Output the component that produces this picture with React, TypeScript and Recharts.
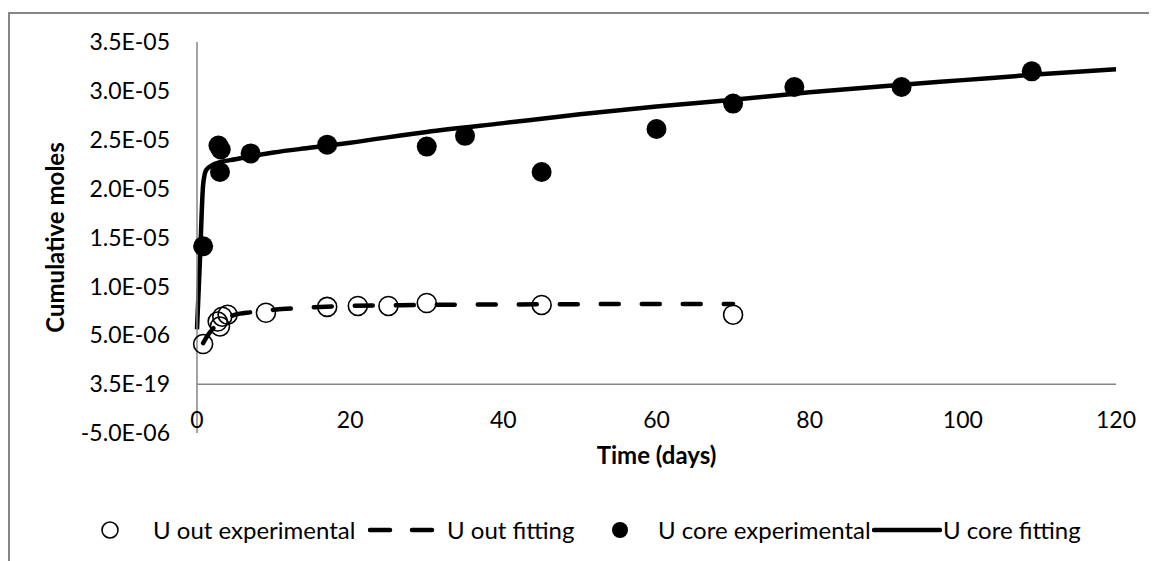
import React from "react";
import {
  ComposedChart,
  Line,
  Scatter,
  XAxis,
  YAxis,
  ReferenceLine,
  Legend,
} from "recharts";

const FONT = "Lato, 'Liberation Sans', sans-serif";
const AXIS_GRAY = "#868686";

const X_TICKS = [0, 20, 40, 60, 80, 100, 120];
const Y_TICKS = [-5e-6, 0, 5e-6, 1e-5, 1.5e-5, 2e-5, 2.5e-5, 3e-5, 3.5e-5];
const Y_LABELS = [
  "-5.0E-06",
  "3.5E-19",
  "5.0E-06",
  "1.0E-05",
  "1.5E-05",
  "2.0E-05",
  "2.5E-05",
  "3.0E-05",
  "3.5E-05",
];

// U out experimental (open circles)
const outExpDays = [0.8, 3, 2.7, 3.3, 4, 9, 17, 21, 25, 30, 45, 70];
const outExpMoles = [
  4.1e-6, 5.9e-6, 6.4e-6, 6.9e-6, 7.1e-6, 7.3e-6, 7.9e-6, 8.0e-6, 8.0e-6,
  8.3e-6, 8.1e-6, 7.1e-6,
];

// U out fitting (dashed)
const outFitDays = [0.8, 1.5, 2, 3, 4, 5, 7, 10, 15, 20, 25, 30, 40, 50, 60, 70];
const outFitMoles = [
  4.2e-6, 5.1e-6, 5.6e-6, 6.3e-6, 6.8e-6, 7.1e-6, 7.35e-6, 7.6e-6, 7.85e-6,
  8.0e-6, 8.05e-6, 8.1e-6, 8.15e-6, 8.18e-6, 8.2e-6, 8.2e-6,
];

// U core experimental (filled circles)
const coreExpDays = [0.8, 2.8, 3.1, 3, 7, 17, 30, 35, 45, 60, 70, 78, 92, 109];
const coreExpMoles = [
  1.41e-5, 2.44e-5, 2.4e-5, 2.17e-5, 2.36e-5, 2.45e-5, 2.43e-5, 2.54e-5,
  2.17e-5, 2.61e-5, 2.87e-5, 3.04e-5, 3.04e-5, 3.2e-5,
];

// U core fitting (solid)
const coreFitDays = [0, 0.4, 0.8, 1.2, 2, 3, 5, 7, 10, 15, 20, 30, 40, 50, 60, 70, 80, 90, 100, 110, 120];
const coreFitMoles = [
  5.6e-6, 1.3e-5, 2.04e-5, 2.19e-5, 2.24e-5, 2.27e-5, 2.3e-5, 2.33e-5,
  2.37e-5, 2.42e-5, 2.47e-5, 2.58e-5, 2.67e-5, 2.76e-5, 2.84e-5, 2.91e-5,
  2.985e-5, 3.05e-5, 3.11e-5, 3.17e-5, 3.22e-5,
];

const zip = (xs: number[], ys: number[]) => xs.map((x, i) => ({ x, y: ys[i] }));

const outExp = zip(outExpDays, outExpMoles);
const outFit = zip(outFitDays, outFitMoles);
const coreExp = zip(coreExpDays, coreExpMoles);
const coreFit = zip(coreFitDays, coreFitMoles);

const WIDTH = 1149;
const HEIGHT = 553;

function OpenDot(props: any) {
  const { cx, cy } = props;
  if (cx == null || cy == null) return null;
  return <circle cx={cx} cy={cy} r={9.5} fill="none" stroke="#000" strokeWidth={1.6} />;
}

function FilledDot(props: any) {
  const { cx, cy } = props;
  if (cx == null || cy == null) return null;
  return <circle cx={cx} cy={cy} r={10} fill="#000" />;
}

function XTick(props: any) {
  const { x, y, payload } = props;
  return (
    <text x={x} y={y} dy={-5} textAnchor="middle" fontFamily={FONT} fontSize={23} fill="#000">
      {payload.value}
    </text>
  );
}

const legendItems = [
  { label: "U out experimental", icon: "open", iconX: 102, textX: 145 },
  { label: "U out fitting", icon: "dash", iconX: 360, textX: 439 },
  { label: "U core experimental", icon: "filled", iconX: 612, textX: 650 },
  { label: "U core fitting", icon: "solid", iconX: 864, textX: 935 },
];

function LegendIcon({ kind }: { kind: string }) {
  if (kind === "open")
    return (
      <svg width={20} height={20} style={{ position: "absolute", left: -10, top: 10 }}>
        <circle cx={10} cy={10} r={8} fill="none" stroke="#000" strokeWidth={1.6} />
      </svg>
    );
  if (kind === "filled")
    return (
      <svg width={20} height={20} style={{ position: "absolute", left: -10, top: 10 }}>
        <circle cx={10} cy={10} r={8} fill="#000" />
      </svg>
    );
  return (
    <svg width={70} height={10} style={{ position: "absolute", left: 0, top: 15 }}>
      <line
        x1={2}
        x2={kind === "dash" ? 65 : 68}
        y1={5}
        y2={5}
        stroke="#000"
        strokeWidth={4.5}
        strokeLinecap="round"
        strokeDasharray={kind === "dash" ? "20 22" : undefined}
      />
    </svg>
  );
}

function ChartLegend() {
  return (
    <div style={{ position: "relative", width: WIDTH, height: 40 }}>
      {legendItems.map((item) => (
        <React.Fragment key={item.label}>
          <div style={{ position: "absolute", left: item.iconX, top: 0 }}>
            <LegendIcon kind={item.icon} />
          </div>
          <span
            style={{
              position: "absolute",
              left: item.textX,
              top: 6,
              fontFamily: FONT,
              fontSize: 24,
              lineHeight: "28px",
              color: "#000",
              whiteSpace: "nowrap",
            }}
          >
            {item.label}
          </span>
        </React.Fragment>
      ))}
    </div>
  );
}

export default function App() {
  return (
    <div style={{ position: "relative", width: WIDTH, height: HEIGHT, background: "#fff" }}>
      <div
        style={{
          position: "absolute",
          left: 0,
          top: 4,
          width: WIDTH + 20,
          height: HEIGHT + 20,
          borderLeft: `2px solid ${AXIS_GRAY}`,
          borderTop: `2px solid ${AXIS_GRAY}`,
          boxSizing: "border-box",
        }}
      />
      <ComposedChart
        width={WIDTH}
        height={HEIGHT}
        margin={{ top: 34, right: 41, bottom: 11, left: 29 }}
        style={{ position: "relative" }}
      >
        <XAxis
          type="number"
          dataKey="x"
          domain={[0, 120]}
          ticks={X_TICKS}
          interval={0}
          height={77}
          axisLine={false}
          tickLine={false}
          tickSize={0}
          tickMargin={0}
          tick={<XTick />}
          label={{
            value: "Time (days)",
            position: "insideTop",
            offset: 14,
            fontFamily: FONT,
            fontSize: 24,
            fontWeight: 700,
            fill: "#000",
          }}
        />
        <YAxis
          type="number"
          dataKey="y"
          domain={[-5e-6, 3.5e-5]}
          ticks={Y_TICKS}
          interval={0}
          width={160}
          axisLine={{ stroke: AXIS_GRAY, strokeWidth: 1.5 }}
          tickLine={false}
          tickSize={6}
          tickMargin={21}
          tickFormatter={(_v: number, i: number) => Y_LABELS[i]}
          tick={{ fontFamily: FONT, fontSize: 23, fill: "#000" }}
          label={{
            value: "Cumulative moles",
            angle: -90,
            position: "insideLeft",
            offset: 18,
            fontFamily: FONT,
            fontSize: 24,
            fontWeight: 700,
            fill: "#000",
            style: { textAnchor: "middle" },
          }}
        />
        <ReferenceLine y={0} stroke={AXIS_GRAY} strokeWidth={1.5} />
        <Scatter
          name="U out experimental"
          data={outExp}
          dataKey="y"
          shape={<OpenDot />}
          isAnimationActive={false}
        />
        <Line
          name="U out fitting"
          data={outFit}
          dataKey="y"
          type="monotone"
          stroke="#000"
          strokeWidth={4.5}
          strokeDasharray="18 23"
          strokeLinecap="round"
          dot={false}
          activeDot={false}
          isAnimationActive={false}
        />
        <Scatter
          name="U core experimental"
          data={coreExp}
          dataKey="y"
          shape={<FilledDot />}
          isAnimationActive={false}
        />
        <Line
          name="U core fitting"
          data={coreFit}
          dataKey="y"
          type="monotone"
          stroke="#000"
          strokeWidth={4.5}
          dot={false}
          activeDot={false}
          isAnimationActive={false}
        />
        <Legend
          verticalAlign="bottom"
          content={<ChartLegend />}
          wrapperStyle={{ left: 0, width: WIDTH }}
        />
      </ComposedChart>
    </div>
  );
}
